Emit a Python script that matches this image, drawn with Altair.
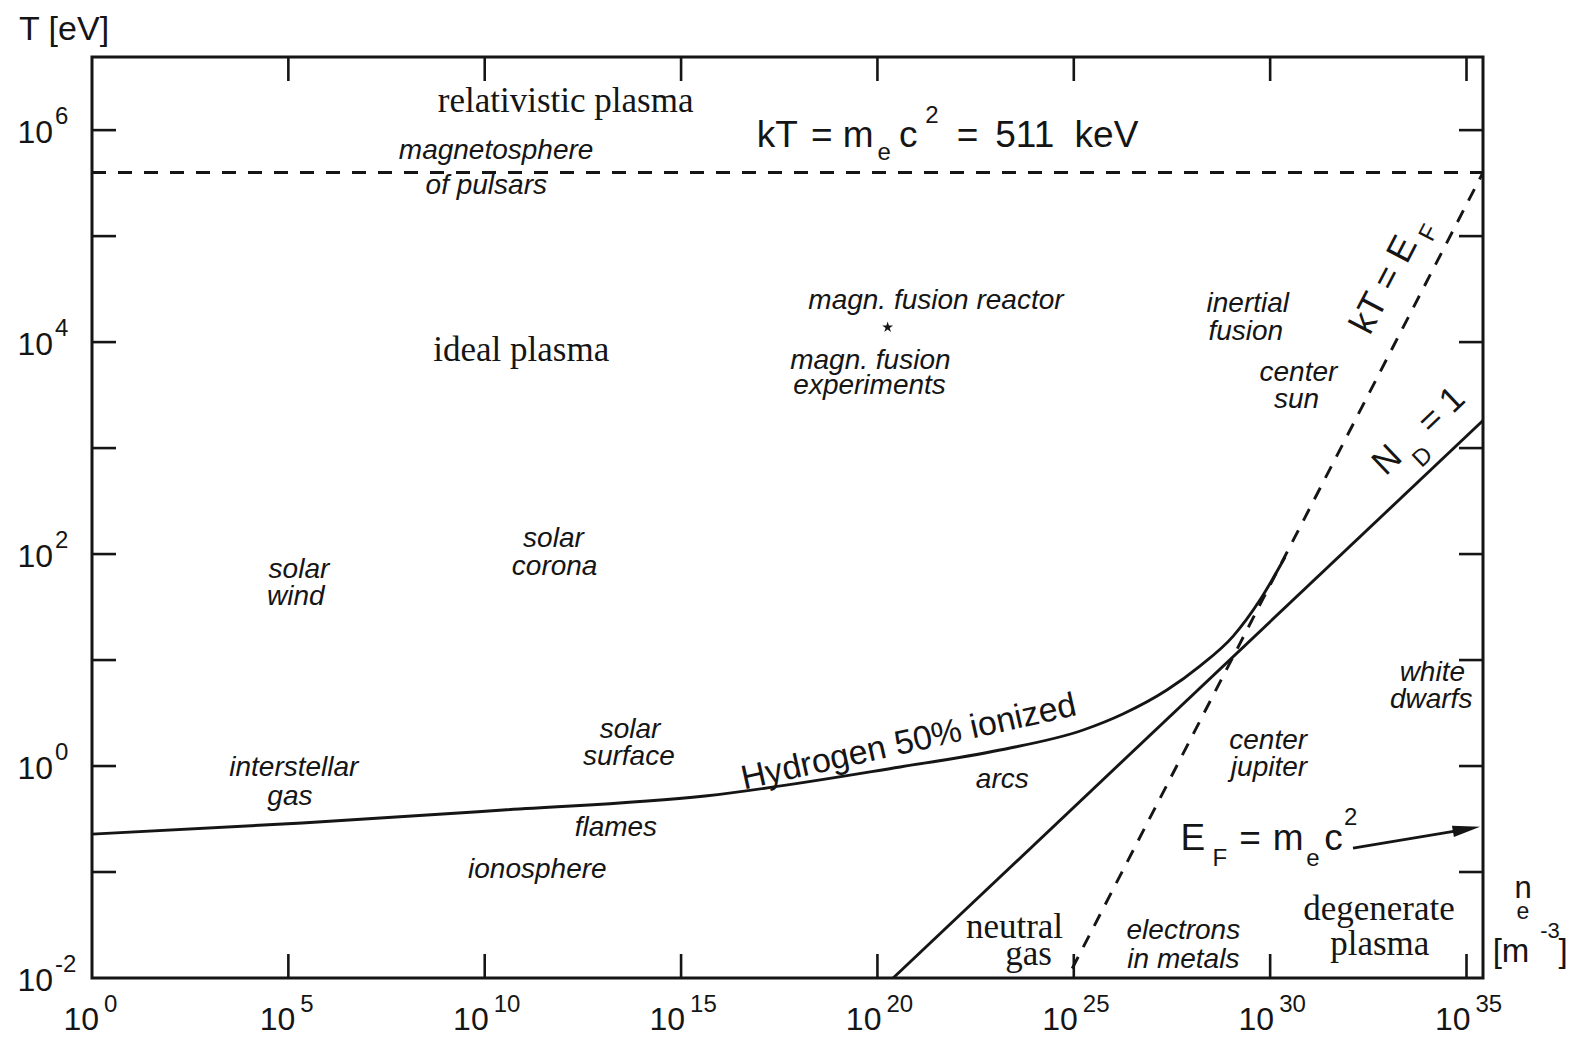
import altair as alt
import pandas as pd

X_MIN, X_MAX = 0.0, 35.42
Y_MIN, Y_MAX = -2.0, 6.69
W, H = 1391, 921
INK = "#151515"

# Boundary curves: log10(n_e [m^-3]) vs log10(T [eV])
hyd_logn = [0.0, 5.35, 10.47, 15.61, 20.58, 23.12, 25.24, 26.25, 27.37, 28.21, 29.06, 29.74, 30.38]
hyd_logT = [-0.642, -0.538, -0.415, -0.283, -0.009, 0.151, 0.340, 0.491, 0.717, 0.943, 1.226, 1.566, 1.972]
nd_logn = [20.40, 35.42]
nd_logT = [-2.0, 3.26]
ef_logn = [24.96, 35.42]
ef_logT = [-1.91, 5.60]
rel_logn = [0.0, 35.42]
rel_logT = [5.60, 5.60]
arrow_logn = [32.11, 35.09]
arrow_logT = [-0.774, -0.590]
head_logn = [35.00]
head_logT = [-0.595]
star_logn = [20.26]
star_logT = [4.14]

# Ticks and tick labels
x_ticks = [5, 10, 15, 20, 25, 30, 35]
y_ticks = [-1, 0, 1, 2, 3, 4, 5, 6]
x_lab_pos1 = [0, 5]
x_lab_exp1 = ["0", "5"]
x_lab_pos2 = [10, 15, 20, 25, 30, 35]
x_lab_exp2 = ["10", "15", "20", "25", "30", "35"]
y_lab_pos = [-2, 0, 2, 4, 6]
y_lab_exp = ["-2", "0", "2", "4", "6"]

# Italic region labels
ital_text = ["magnetosphere", "of pulsars", "magn. fusion reactor", "magn. fusion", "experiments",
             "inertial", "fusion", "center", "sun", "solar", "wind", "solar", "corona",
             "interstellar", "gas", "solar", "surface", "arcs", "flames", "ionosphere",
             "center", "jupiter", "white", "dwarfs", "electrons", "in metals"]
ital_logn = [10.29, 10.04, 21.49, 19.82, 19.80, 29.43, 29.38, 30.72, 30.67, 5.27, 5.19, 11.75, 11.78,
             5.14, 5.04, 13.70, 13.67, 23.18, 13.34, 11.34, 29.95, 29.97, 34.13, 34.10, 27.79, 27.79]
ital_logT = [5.80, 5.469, 4.387, 3.826, 3.589, 4.358, 4.092, 3.712, 3.456, 1.851, 1.594, 2.145, 1.879,
             -0.021, -0.296, 0.341, 0.084, -0.135, -0.581, -0.98, 0.236, -0.021, 0.882, 0.625, -1.56, -1.826]

# Serif region labels
serif_text = ["relativistic plasma", "ideal plasma", "neutral", "gas", "degenerate", "plasma"]
serif_logn = [12.06, 10.93, 23.49, 23.85, 32.77, 32.79]
serif_logT = [6.277, 3.930, -1.52, -1.777, -1.35, -1.683]

# kT = m_e c^2 = 511 keV (left aligned pieces)
kt_text = ["kT", "=", "m", "c", "=", "511", "keV"]
kt_logn = [16.93, 18.31, 19.12, 20.55, 22.02, 23.00, 25.02]
kt_logT = [5.944] * 7
kt_small_text = ["e", "2"]
kt_small_logn = [20.00, 21.22]
kt_small_logT = [5.783, 6.134]

# E_F = m_e c^2 (centred pieces)
efl_text = ["E", "=", "m", "c"]
efl_logn = [28.03, 29.49, 30.46, 31.61]
efl_logT = [-0.686] * 4
efl_small_text = ["F", "e", "2"]
efl_small_logn = [28.72, 31.09, 32.05]
efl_small_logT = [-0.876, -0.876, -0.495]

# Rotated labels
hyd_lab = (["Hydrogen 50% ionized"], [20.80], [0.222])
kte_lab = (["kT = E"], [32.90], [4.540])
kte_sub = (["F"], [34.05], [5.030])
nd_lab = (["N", "= 1"], [32.98, 34.36], [2.887, 3.358])
nd_sub = (["D"], [33.89], [2.915])

xs = alt.Scale(domain=[X_MIN, X_MAX], nice=False, zero=False)
ys = alt.Scale(domain=[Y_MIN, Y_MAX], nice=False, zero=False)
X = lambda: alt.X("logn:Q", scale=xs, axis=None)
Y = lambda: alt.Y("logT:Q", scale=ys, axis=None)


def df(n, t, labels=None):
    d = pd.DataFrame({"logn": n, "logT": t})
    if labels is not None:
        d["label"] = labels
    return d


def line(n, t, dash=None, interp="linear"):
    kw = dict(color=INK, strokeWidth=2.9, interpolate=interp)
    if dash:
        kw["strokeDash"] = dash
    return alt.Chart(df(n, t)).mark_line(**kw).encode(x=X(), y=Y())


def texts(labels, n, t, **props):
    base = dict(color=INK, baseline="middle", align="center")
    base.update(props)
    return alt.Chart(df(n, t, labels)).mark_text(**base).encode(x=X(), y=Y(), text="label:N")


SANS = "Liberation Sans"
SERIF = "Liberation Serif"

layers = []
# curves
layers.append(line(hyd_logn, hyd_logT, interp="monotone"))
layers.append(line(nd_logn, nd_logT))
layers.append(line(ef_logn, ef_logT, dash=[13, 11]))
layers.append(line(rel_logn, rel_logT, dash=[14, 12]))
layers.append(line(arrow_logn, arrow_logT))
layers.append(alt.Chart(df(head_logn, head_logT)).mark_point(
    shape="M-1,-0.42L1,0L-1,0.42Z", filled=True, color=INK, opacity=1, size=760, angle=350.3
).encode(x=X(), y=Y()))
layers.append(alt.Chart(df(star_logn, star_logT)).mark_point(
    shape="M0,-1L0.22,-0.3L0.95,-0.31L0.36,0.12L0.59,0.81L0,0.38L-0.59,0.81L-0.36,0.12L-0.95,-0.31L-0.22,-0.3Z",
    filled=True, color=INK, opacity=1, size=130
).encode(x=X(), y=Y()))

# ticks (inward, all four sides)
xt = pd.DataFrame({"logn": x_ticks})
yt = pd.DataFrame({"logT": y_ticks})
tk = dict(color=INK, strokeWidth=2.6)
layers.append(alt.Chart(xt).mark_rule(**tk).encode(x=X(), y=alt.value(H), y2=alt.value(H - 24)))
layers.append(alt.Chart(xt).mark_rule(**tk).encode(x=X(), y=alt.value(0), y2=alt.value(24)))
layers.append(alt.Chart(yt).mark_rule(**tk).encode(y=Y(), x=alt.value(0), x2=alt.value(24)))
layers.append(alt.Chart(yt).mark_rule(**tk).encode(y=Y(), x=alt.value(W), x2=alt.value(W - 24)))

# tick labels
for pos, exps, d10, dsup in [(x_lab_pos1, x_lab_exp1, 7, 12), (x_lab_pos2, x_lab_exp2, 4, 9)]:
    d = pd.DataFrame({"logn": pos, "label": exps})
    layers.append(alt.Chart(d).mark_text(color=INK, font=SANS, fontSize=32, align="right",
                                          baseline="alphabetic", dx=d10).encode(
        x=X(), y=alt.value(973), text=alt.value("10")))
    layers.append(alt.Chart(d).mark_text(color=INK, font=SANS, fontSize=24, align="left",
                                          baseline="alphabetic", dx=dsup).encode(
        x=X(), y=alt.value(955), text="label:N"))
dy_ = pd.DataFrame({"logT": y_lab_pos, "label": y_lab_exp})
layers.append(alt.Chart(dy_).mark_text(color=INK, font=SANS, fontSize=32, align="right",
                                       baseline="alphabetic", dy=13).encode(
    y=Y(), x=alt.value(-39), text=alt.value("10")))
layers.append(alt.Chart(dy_).mark_text(color=INK, font=SANS, fontSize=24, align="left",
                                       baseline="alphabetic", dy=-6).encode(
    y=Y(), x=alt.value(-37), text="label:N"))

# axis titles (outside plot, pixel positioned)
def ptext(s, x, y, size, **kw):
    base = dict(color=INK, font=SANS, fontSize=size, align="center", baseline="middle")
    base.update(kw)
    return alt.Chart(pd.DataFrame({"a": [0]})).mark_text(**base).encode(
        x=alt.value(x), y=alt.value(y), text=alt.value(s))

layers.append(ptext("T [eV]", -73, -17, 34, align="left", baseline="alphabetic"))
layers.append(ptext("n", 1431, 832, 31))
layers.append(ptext("e", 1431, 855, 23))
layers.append(ptext("[m", 1419, 895, 33))
layers.append(ptext("-3", 1458, 874, 22))
layers.append(ptext("]", 1471, 895, 33))

# region labels
layers.append(texts(ital_text, ital_logn, ital_logT, font=SANS, fontStyle="italic", fontSize=28))
layers.append(texts(serif_text, serif_logn, serif_logT, font=SERIF, fontSize=35))
layers.append(texts(kt_text, kt_logn, kt_logT, font=SANS, fontSize=37, align="left"))
layers.append(texts(kt_small_text, kt_small_logn, kt_small_logT, font=SANS, fontSize=24, align="left"))
layers.append(texts(efl_text, efl_logn, efl_logT, font=SANS, fontSize=37))
layers.append(texts(efl_small_text, efl_small_logn, efl_small_logT, font=SANS, fontSize=24))
layers.append(texts(*hyd_lab, font=SANS, fontSize=34, angle=347.4))
layers.append(texts(*kte_lab, font=SANS, fontSize=36, angle=297.5))
layers.append(texts(*kte_sub, font=SANS, fontSize=24, angle=297.5))
layers.append(texts(*nd_lab, font=SANS, fontSize=35, angle=316.5))
layers.append(texts(*nd_sub, font=SANS, fontSize=24, angle=316.5))

chart = alt.layer(*layers).properties(
    width=W, height=H,
    padding={"left": 84, "top": 49, "right": 87, "bottom": 60},
    autosize=alt.AutoSizeParams(type="none"),
).configure_view(stroke=INK, strokeWidth=3)

chart.save("out.html", embed_options={"renderer": "svg", "actions": False})
